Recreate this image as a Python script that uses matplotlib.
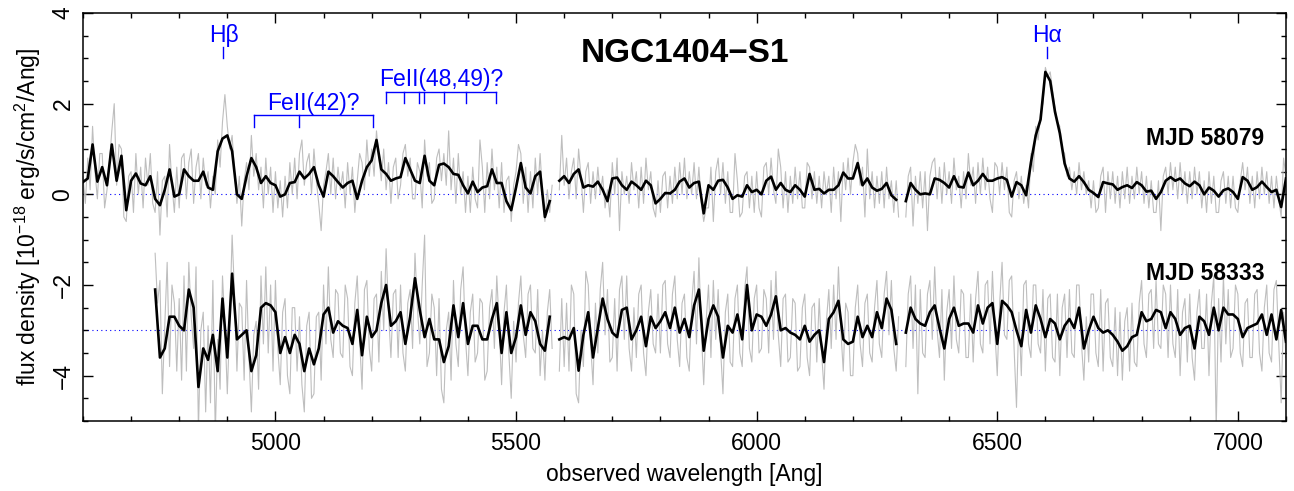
import numpy as np
import matplotlib
matplotlib.use("Agg")
import matplotlib.pyplot as plt
from matplotlib.ticker import MultipleLocator

nan = np.nan

# smoothed spectrum, epoch 1 (4600-7100 A, 10 A steps)
top_flux = [
    0.27, 0.35, 1.1, 0.28, 0.6, 0.2, 1.1, 0.3, 0.85, -0.35,
    0.3, 0.46, 0.24, 0.2, 0.4, -0.1, -0.24, 0.1, 0.55, -0.05,
    0.0, 0.55, 0.4, 0.3, 0.3, 0.5, 0.15, 0.1, 0.95, 1.23,
    1.3, 0.95, 0.0, -0.1, 0.4, 0.8, 0.6, 0.25, 0.4, 0.25,
    0.2, -0.05, 0.0, 0.25, 0.27, 0.5, 0.35, 0.45, 0.6, 0.2,
    -0.05, 0.5, 0.4, 0.27, 0.15, 0.25, 0.3, -0.1, 0.3, 0.6,
    0.75, 1.2, 0.55, 0.45, 0.3, 0.35, 0.38, 0.8, 0.55, 0.3,
    0.25, 0.85, 0.3, 0.2, 0.65, 0.68, 0.6, 0.45, 0.43, 0.2,
    0.02, 0.28, 0.05, 0.15, 0.18, 0.55, 0.25, 0.25, -0.15, -0.35,
    0.15, 0.69, 0.15, 0.02, 0.4, 0.5, -0.5, -0.15, nan, 0.3,
    0.4, 0.25, 0.45, 0.55, 0.15, 0.2, 0.17, 0.28, 0.1, -0.15,
    0.35, 0.37, 0.2, 0.1, 0.28, 0.2, 0.1, 0.3, 0.2, -0.2,
    -0.1, 0.03, 0.02, 0.1, 0.28, 0.35, 0.15, 0.25, 0.28, -0.42,
    0.2, 0.1, 0.3, 0.32, 0.15, -0.1, -0.02, -0.05, 0.2, 0.05,
    0.1, 0.0, 0.3, 0.39, 0.1, 0.25, 0.1, 0.05, 0.2, 0.1,
    -0.05, 0.45, 0.1, 0.12, 0.02, 0.1, 0.1, 0.2, 0.48, 0.35,
    0.35, 0.69, 0.2, 0.35, 0.15, 0.08, 0.12, 0.25, -0.02, -0.12,
    nan, -0.15, 0.25, 0.1, 0.0, 0.02, 0.0, 0.35, 0.32, 0.25,
    0.15, 0.4, 0.17, 0.15, 0.48, 0.2, 0.3, 0.45, 0.3, 0.3,
    0.35, 0.38, 0.32, -0.05, 0.27, 0.2, -0.02, 0.7, 1.3, 1.65,
    2.7, 2.5, 1.82, 1.35, 0.68, 0.35, 0.28, 0.4, 0.27, 0.1,
    0.03, -0.06, 0.27, 0.24, 0.22, 0.1, 0.16, 0.2, 0.14, 0.27,
    0.2, 0.06, 0.08, -0.1, 0.05, 0.3, 0.38, 0.3, 0.35, 0.24,
    0.18, 0.28, 0.2, 0.0, 0.15, 0.08, -0.05, 0.09, 0.13, 0.05,
    -0.1, 0.38, 0.3, 0.1, 0.16, 0.28, 0.16, 0.05, 0.1, -0.28,
    0.35,
]

# raw spectrum, epoch 1 (5 A steps)
top_raw = [
    0.4, -0.2, 0.8, 0.1, 1.5, 0.5, -0.1, 0.9, 0.9, -0.3, 0.1, 0.7, 1.4, 2.0, 0.2, 1.1, 1.0, -0.5, -0.6, 0.4,
    0.5, -0.4, 0.9, 0.0, 0.6, -0.3, 0.8, 0.2, 0.9, -0.2, -0.4, 0.5, -0.9, 0.3, 0.4, -0.5, 1.1, 0.2, -0.4, 0.6,
    -0.3, 0.8, 0.9, -0.1, 0.7, 1.0, -0.2, 0.6, 0.9, -0.1, 0.8, 0.2, 0.5, -0.3, 0.4, 0.0, 1.2, 0.6, 1.6, 2.2,
    1.5, 1.0, 1.3, 0.5, -0.2, 0.4, -0.7, 0.3, 0.7, 0.1, 1.3, 0.4, 0.9, 0.1, 0.6, -0.3, 0.8, 0.0, 0.6, -0.4,
    0.5, -0.3, 0.3, -0.5, 0.4, -0.3, 0.7, 0.0, 0.8, -0.1, 0.9, 1.2, 0.2, 0.7, 0.9, 0.0, 1.0, 0.3, -0.2, -0.8,
    0.2, 0.5, 0.9, 0.0, 0.8, -0.1, 0.6, 0.1, 0.5, -0.3, 0.7, 0.0, 0.6, -0.4, 0.3, 0.9, 0.7, 0.1, 1.2, 0.4,
    1.0, 0.4, 1.4, 0.8, 0.3, 1.0, 0.1, 0.7, -0.2, 0.6, 0.8, -0.1, 0.2, 0.9, 1.1, 0.4, 0.8, -0.1, -0.1, 0.7,
    0.5, -0.3, 1.2, 0.4, 0.7, -0.2, -0.1, 0.8, 1.0, 0.3, 0.9, 0.2, 1.4, 0.1, 0.8, -0.2, 0.9, 0.0, 0.5, -0.4,
    0.4, -0.4, 0.6, -0.1, -0.3, 1.2, 0.6, -0.4, 0.7, -0.1, 1.0, 0.1, 0.6, -0.3, 0.7, -0.4, 0.3, 0.4, -0.6, 0.2,
    0.5, 1.1, 0.9, -0.2, 0.6, -0.4, 0.5, -0.3, 0.8, 0.0, 0.9, 0.0, -0.6, 0.1, -0.4, 0.2, nan, nan, 0.1, 1.3,
    0.2, 0.8, -0.1, 0.5, 0.8, -0.1, 1.0, 0.4, -0.4, 0.5, 0.7, -0.2, 0.5, -0.1, 0.6, 0.0, 0.4, -0.3, 0.1, -0.5,
    0.7, 0.0, 0.8, -0.8, 0.5, 0.0, 0.4, -0.2, 0.7, 0.1, 0.5, -0.3, 0.6, -0.2, 0.8, 0.1, 0.5, -0.3, -0.5, 0.3,
    -0.4, 0.4, 0.5, -0.3, 0.4, -0.2, 0.6, -0.1, 0.7, 0.0, 0.8, -0.1, 0.5, 0.0, 0.7, -0.1, 0.6, -0.2, -0.6, -0.3,
    -0.3, 0.6, -0.6, 0.5, 0.8, 0.0, 0.7, -0.2, 0.5, -0.4, -0.4, 0.9, 0.3, -0.5, -0.4, 0.4, 0.5, -0.3, 0.4, -0.4,
    0.5, -0.3, -0.5, 0.6, 0.7, 0.0, 0.8, 0.1, -0.2, 1.0, 0.6, -0.3, 0.5, -0.4, 0.4, -0.2, 0.6, -0.1, 0.5, -0.3,
    -0.3, 0.7, 0.6, -0.1, 0.5, -0.2, 0.4, -0.3, 0.5, 0.0, 0.4, -0.4, 0.6, -0.1, 0.5, -0.6, 0.7, 0.1, 0.8, 0.0,
    0.7, 1.1, 0.9, 0.2, 0.6, -0.5, 1.0, -0.1, 0.5, -0.3, 0.4, -0.2, 0.5, -0.3, 0.6, -0.1, 0.3, -0.4, 0.3, -0.5,
    nan, nan, -0.5, 0.4, 0.6, -0.7, 0.4, -0.2, 0.5, -0.3, 0.5, -0.8, 0.4, 0.7, 0.8, -0.1, 0.6, -0.2, 0.7, 0.0,
    0.5, -0.2, 0.8, 0.1, 0.4, -0.3, 0.5, -0.1, 0.9, 0.2, 0.6, -0.2, 0.7, 0.0, 0.8, 0.1, 0.6, -0.1, -0.4, 0.7,
    0.6, 0.0, 0.7, 0.1, 0.6, -0.4, -0.5, 0.3, 0.5, -0.1, 0.4, -0.2, 0.2, -0.3, 0.9, 0.5, 1.5, 1.2, 1.8, 2.0,
    2.8, 2.6, 2.7, 2.3, 1.9, 1.6, 1.5, 1.0, 0.9, 0.4, 0.6, 0.1, 0.5, 0.0, 0.7, 0.1, 0.5, 0.0, 0.3, -0.3,
    0.3, -0.4, -0.3, 0.4, 0.6, -0.4, 0.5, -0.1, 0.5, -0.2, 0.4, -0.3, 0.5, -0.1, 0.6, -0.2, 0.4, -0.1, 0.6, 0.0,
    0.5, -0.2, 0.4, -0.3, 0.3, -0.4, -0.4, 0.3, -0.8, 0.4, 0.6, 0.0, 0.7, 0.1, 0.6, -0.1, 0.7, 0.0, 0.5, -0.2,
    0.5, -0.1, 0.6, 0.0, 0.5, -0.3, 0.3, -0.4, 0.5, -0.2, 0.4, -0.4, -0.4, 0.3, 0.5, -0.2, 0.4, -0.3, 0.4, -0.3,
    -0.4, 0.3, 0.7, 0.1, 0.6, -0.2, 0.4, -0.3, 0.5, -0.1, 0.6, 0.0, 0.5, -0.2, 0.4, -0.3, 0.4, -0.1, -0.5, 0.8,
    0.4,
]

# smoothed spectrum, epoch 2 (4750-7100 A, 10 A steps)
bot_flux = [
    -2.1, -3.6, -3.4, -2.7, -2.7,
    -2.9, -3.0, -2.1, -2.5, -4.25, -3.4, -3.65, -3.1, -3.9, -2.3,
    -3.6, -1.75, -3.2, -3.1, -3.0, -3.9, -3.55, -2.5, -2.4, -2.45,
    -2.6, -3.5, -3.15, -3.5, -3.1, -3.3, -3.9, -3.4, -3.75, -3.4,
    -2.65, -2.5, -3.05, -2.8, -2.9, -2.95, -3.3, -2.55, -3.55, -2.7,
    -3.15, -3.0, -2.4, -2.0, -2.9, -2.8, -2.6, -3.3, -2.7, -1.85,
    -2.55, -3.15, -2.75, -3.2, -3.2, -3.7, -3.35, -2.45, -3.15, -2.4,
    -3.3, -2.9, -2.9, -3.2, -3.2, -2.75, -2.4, -3.5, -2.6, -3.5,
    -3.15, -2.45, -3.1, -2.6, -2.8, -3.3, -3.45, -2.7, nan, -3.2,
    -3.15, -3.2, -2.95, -3.89, -3.1, -2.6, -3.6, -2.95, -2.3, -2.75,
    -3.05, -3.15, -2.55, -2.5, -3.2, -3.0, -2.7, -3.35, -2.7, -2.95,
    -2.8, -2.6, -2.95, -2.5, -3.05, -2.75, -3.15, -2.45, -2.1, -3.45,
    -2.75, -2.45, -2.7, -3.6, -2.9, -3.05, -2.65, -3.2, -2.0, -3.0,
    -2.65, -2.7, -2.9, -2.65, -2.25, -3.0, -2.95, -3.05, -3.1, -3.2,
    -2.9, -3.25, -3.1, -3.0, -3.7, -2.75, -2.6, -2.35, -3.2, -3.3,
    -3.25, -2.7, -3.15, -2.9, -3.15, -2.6, -2.95, -2.3, -2.55, -3.3,
    nan, -3.05, -2.5, -2.75, -2.85, -2.9, -2.6, -2.45, -2.95, -3.4,
    -2.75, -2.5, -2.9, -2.85, -2.85, -3.05, -2.45, -2.85, -2.5, -2.4,
    -3.3, -2.35, -2.45, -2.6, -3.0, -3.35, -2.55, -3.05, -2.45, -2.75,
    -3.15, -2.75, -2.85, -3.2, -2.9, -2.75, -2.95, -2.5, -3.4, -3.0,
    -2.7, -2.95, -3.05, -3.0, -3.1, -3.25, -3.45, -3.35, -3.15, -3.1,
    -2.6, -2.8, -2.75, -2.55, -2.6, -2.95, -2.6, -2.75, -3.1, -2.95,
    -2.9, -3.4, -2.7, -2.8, -3.1, -2.5, -3.0, -2.5, -2.65, -2.65,
    -2.75, -3.15, -2.95, -2.9, -2.85, -2.65, -3.1, -2.65, -3.2, -2.55,
    -3.25,
]

# raw spectrum, epoch 2 (5 A steps)
bot_raw = [
    -1.3, -2.4, -1.9, -4.4, -2.9, -1.5, -3.8, -2.0, -2.4, -3.9,
    -2.3, -4.1, -1.8, -3.9, -1.5, -2.7, -3.4, -1.6, -5.2, -3.0, -2.6, -4.8, -2.9, -4.6, -1.9, -5.3, -3.2, -4.3, -1.8, -2.9,
    -4.4, -2.8, -0.9, -2.2, -3.9, -2.4, -2.5, -4.1, -1.9, -3.6, -4.8, -3.1, -2.8, -4.3, -1.8, -3.3, -1.6, -3.5, -2.0, -3.9,
    -1.9, -3.4, -4.2, -2.6, -2.3, -4.0, -4.4, -2.5, -2.5, -3.9, -2.7, -4.2, -4.8, -2.9, -2.6, -4.5, -4.4, -2.7, -2.6, -4.1,
    -2.0, -3.3, -1.6, -3.2, -3.6, -2.1, -2.2, -3.5, -3.6, -2.0, -2.3, -3.8, -4.0, -2.4, -1.8, -3.2, -4.3, -2.1, -1.9, -3.4,
    -3.9, -2.3, -2.2, -3.7, -1.7, -3.0, -1.2, -2.6, -3.6, -2.2, -2.1, -3.6, -2.0, -3.5, -3.9, -2.4, -2.1, -3.4, -1.3, -2.5,
    -3.3, -2.0, -0.9, -3.8, -3.5, -2.2, -2.5, -4.0, -2.3, -4.3, -4.6, -3.0, -2.6, -4.1, -1.9, -3.3, -3.8, -2.1, -1.6, -3.2,
    -4.0, -2.6, -2.2, -3.7, -3.5, -2.3, -2.4, -4.1, -3.9, -2.5, -2.1, -3.4, -1.8, -2.9, -4.2, -2.6, -2.0, -3.5, -4.5, -2.8,
    -3.7, -2.4, -1.8, -3.1, -3.6, -2.2, -2.0, -3.4, -3.5, -2.1, -4.0, -3.0, -4.1, -2.6, -2.1, -3.4, nan, nan, -3.9, -2.3,
    -3.8, -2.4, -3.9, -2.0, -2.2, -4.4, -4.6, -3.0, -3.8, -1.7, -2.0, -3.3, -4.2, -2.4, -3.5, -2.1, -1.5, -3.1, -2.1, -3.7,
    -3.6, -2.3, -3.9, -2.1, -1.8, -3.2, -1.8, -3.4, -3.9, -2.5, -3.6, -2.2, -2.0, -3.5, -4.0, -2.6, -2.1, -3.3, -3.5, -2.2,
    -3.5, -2.0, -1.9, -3.3, -3.6, -2.2, -1.8, -3.2, -3.8, -2.4, -2.2, -3.6, -3.9, -2.4, -1.7, -3.3, -1.4, -3.0, -4.2, -2.8,
    -2.0, -3.6, -1.9, -3.2, -2.1, -3.4, -4.4, -2.6, -2.2, -3.7, -3.8, -2.3, -2.0, -3.5, -3.8, -2.1, -1.6, -3.4, -3.7, -2.3,
    -2.0, -3.5, -3.4, -2.1, -2.3, -3.5, -1.9, -3.2, -1.7, -3.1, -3.8, -2.3, -2.2, -3.7, -3.6, -2.3, -2.4, -3.9, -3.8, -2.5,
    -2.2, -3.6, -4.0, -2.5, -2.4, -3.7, -2.3, -3.5, -4.3, -2.8, -2.1, -3.4, -2.0, -3.2, -1.6, -3.0, -3.9, -2.4, -2.6, -4.0,
    -4.0, -2.5, -2.0, -3.3, -3.8, -2.4, -2.2, -3.5, -3.7, -2.5, -1.9, -3.3, -3.6, -2.2, -1.7, -3.1, -1.9, -3.4, -3.9, -2.7,
    nan, nan, -3.8, -2.2, -1.8, -3.4, -2.0, -4.4, -2.1, -3.5, -3.6, -2.2, -1.9, -3.2, -1.6, -3.0, -3.6, -2.1, -4.1, -2.6,
    -2.1, -3.4, -1.8, -3.2, -3.5, -2.1, -2.2, -3.6, -3.6, -2.2, -3.7, -2.3, -1.7, -3.3, -3.5, -2.0, -1.9, -3.3, -1.7, -3.0,
    -4.0, -2.4, -1.5, -3.1, -3.2, -1.9, -1.8, -3.4, -4.7, -2.6, -4.0, -2.0, -1.9, -3.3, -3.6, -2.0, -2.0, -3.3, -3.5, -2.1,
    -3.9, -2.3, -2.2, -3.6, -3.7, -2.2, -4.0, -2.5, -2.2, -3.6, -2.1, -3.5, -3.6, -2.0, -2.0, -3.3, -4.1, -2.7, -3.7, -2.2,
    -2.2, -3.5, -3.8, -2.1, -3.9, -2.4, -2.3, -3.6, -3.8, -2.5, -4.0, -2.6, -4.1, -2.8, -2.5, -3.9, -2.4, -3.7, -3.8, -2.4,
    -1.9, -3.3, -3.6, -2.2, -2.1, -3.4, -1.9, -3.3, -3.4, -2.0, -2.2, -3.6, -2.0, -3.3, -3.6, -2.1, -4.0, -2.6, -2.3, -3.7,
    -2.2, -3.6, -4.1, -2.6, -2.1, -3.4, -3.4, -2.2, -4.0, -2.4, -1.8, -5.2, -2.3, -3.7, -1.8, -3.3, -2.1, -3.6, -3.4, -2.0,
    -2.2, -3.5, -3.8, -2.4, -2.3, -3.6, -3.6, -2.2, -2.1, -3.5, -3.9, -2.5, -2.0, -3.5, -3.7, -2.1, -1.9, -3.3, -4.6, -2.6,
    -3.6,
]

wl_top = np.arange(4600, 7101, 10)
wl_top_raw = np.arange(4600, 7101, 5)
wl_bot = np.arange(4750, 7101, 10)
wl_bot_raw = np.arange(4750, 7101, 5)

epochs = ["MJD 58079", "MJD 58333"]
offsets = [0, -3]

# line identifications (redshifted)
hb_wl, ha_wl = 4892, 6604
fe42 = [4955, 5050, 5202]
fe4849 = [5230, 5268, 5298, 5309, 5350, 5397, 5459]

plt.rcParams["font.family"] = ["Liberation Sans", "DejaVu Sans"]
plt.rcParams["mathtext.fontset"] = "custom"
plt.rcParams["mathtext.rm"] = "Liberation Sans"
plt.rcParams["mathtext.default"] = "regular"

fs = 16.5
fig = plt.figure(figsize=(12.94, 4.91), dpi=100)
ax = fig.add_axes([0.0641, 0.1426, 0.9297, 0.8309])

for off in offsets:
    ax.axhline(off, color="blue", ls=(0, (1, 3)), lw=0.8, zorder=1)

ax.plot(wl_top_raw, top_raw, color="#bebebe", lw=0.8, zorder=2)
ax.plot(wl_bot_raw, bot_raw, color="#bebebe", lw=0.8, zorder=2)
ax.plot(wl_top, top_flux, color="black", lw=1.9, zorder=3)
ax.plot(wl_bot, bot_flux, color="black", lw=1.9, zorder=3)

ax.set_xlim(4600, 7100)
ax.set_ylim(-5, 4)

# labels for the two epochs
ax.text(7055, 1.24, epochs[0], ha="right", va="center", fontsize=fs, fontweight="bold")
ax.text(7055, -1.75, epochs[1], ha="right", va="center", fontsize=fs, fontweight="bold")
ax.text(5850, 3.1, "NGC1404\u2212S1", ha="center", va="center", fontsize=24, fontweight="bold")

# Balmer lines
for wl, name in [(hb_wl, "H\u03b2"), (ha_wl, "H\u03b1")]:
    ax.plot([wl, wl], [3.0, 3.25], color="blue", lw=1)
    ax.text(wl, 3.37, name, color="blue", ha="center", va="baseline", fontsize=fs)

# FeII brackets
ax.plot([fe42[0], fe42[-1]], [1.75, 1.75], color="blue", lw=1)
for wl in fe42:
    ax.plot([wl, wl], [1.48, 1.75], color="blue", lw=1)
ax.text(np.mean([fe42[0], fe42[-1]]), 1.86, "FeII(42)?", color="blue",
        ha="center", va="baseline", fontsize=fs)

ax.plot([fe4849[0], fe4849[-1]], [2.26, 2.26], color="blue", lw=1)
for wl in fe4849:
    ax.plot([wl, wl], [2.01, 2.26], color="blue", lw=1)
ax.text(np.mean([fe4849[0], fe4849[-1]]), 2.38, "FeII(48,49)?", color="blue",
        ha="center", va="baseline", fontsize=fs)

ax.xaxis.set_major_locator(MultipleLocator(500))
ax.xaxis.set_minor_locator(MultipleLocator(100))
ax.yaxis.set_major_locator(MultipleLocator(2))
ax.yaxis.set_minor_locator(MultipleLocator(0.5))
ax.tick_params(which="both", direction="in", top=True, right=True, width=1, labelsize=fs)
ax.tick_params(which="major", length=7.5)
ax.tick_params(which="minor", length=3.8)
ax.tick_params(axis="x", pad=8)
ax.tick_params(axis="y", pad=6)
for lab in ax.get_yticklabels():
    lab.set_rotation(90)
    lab.set_va("center")
for sp in ax.spines.values():
    sp.set_linewidth(1.1)

ax.set_xlabel("observed wavelength [Ang]", fontsize=fs, labelpad=6)
ax.set_ylabel("flux density [$10^{-18}$ erg/s/cm$^2$/Ang]", fontsize=fs, labelpad=6)

fig.savefig("out.png", dpi=100)
